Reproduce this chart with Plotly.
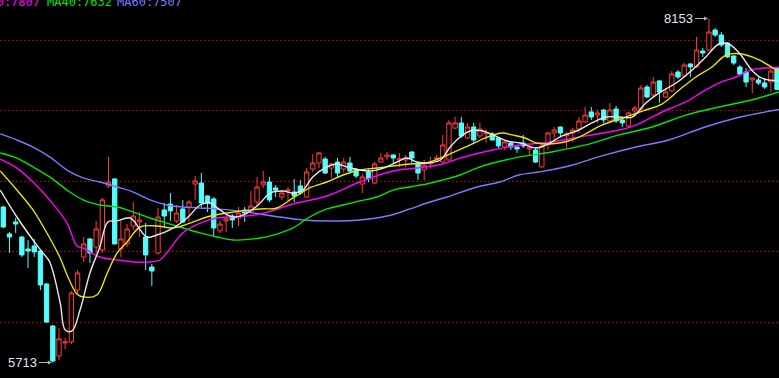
import plotly.graph_objects as go

# ---------------- data ----------------
opens = [6816, 6625, 6710, 6603, 6518, 6539, 6504, 6270, 5972, 5759,
         5852, 5859, 6227, 6461, 6589, 6532, 6511, 6965, 7015, 6518,
         6554, 6681, 6710, 6603, 6390, 6490, 6795, 6837, 6717, 6802,
         6816, 6979, 6986, 6894, 6873, 6646, 6717, 6752, 6738, 6795,
         6780, 6851, 6972, 6993, 6951, 6887, 6929, 6922, 6965, 6887,
         7085, 7128, 7156, 7092, 7135, 7085, 7128, 7085, 6979, 7064,
         6986, 7135, 7171, 7185, 7149, 7149, 7206, 7128, 7078, 7121,
         7156, 7135, 7149, 7376, 7412, 7305, 7383, 7320, 7334, 7334,
         7305, 7241, 7270, 7241, 7270, 7227, 7220, 7100, 7256, 7341,
         7383, 7320, 7341, 7369, 7419, 7490, 7468, 7504, 7426, 7511,
         7433, 7390, 7497, 7511, 7667, 7610, 7710, 7596, 7639, 7773,
         7745, 7830, 7809, 7922, 7929, 8071, 8036, 7979, 7887, 7809,
         7773, 7717, 7717, 7695, 7702, 7802]
highs = [6825, 6639, 6738, 6610, 6582, 6589, 6511, 6275, 5979, 5958,
         5887, 6220, 6369, 6603, 6596, 6717, 6880, 7171, 7020, 6724,
         6695, 6851, 6780, 6702, 6412, 6809, 6844, 6915, 6830, 6866,
         6866, 7036, 7057, 6900, 6887, 6717, 6759, 6766, 6816, 6816,
         6929, 7029, 7071, 7029, 6972, 6936, 6958, 7015, 7007, 7092,
         7192, 7206, 7171, 7128, 7163, 7163, 7171, 7092, 7050, 7085,
         7135, 7199, 7206, 7190, 7199, 7185, 7210, 7135, 7149, 7171,
         7185, 7327, 7433, 7454, 7454, 7412, 7412, 7412, 7369, 7348,
         7312, 7291, 7277, 7256, 7327, 7256, 7241, 7256, 7348, 7383,
         7386, 7348, 7376, 7454, 7525, 7525, 7504, 7511, 7553, 7532,
         7454, 7490, 7532, 7681, 7681, 7738, 7717, 7660, 7780, 7788,
         7837, 7837, 8022, 7944, 8153, 8085, 8057, 7986, 7890, 7823,
         7802, 7735, 7738, 7731, 7802, 7805]
lows = [6665, 6490, 6632, 6461, 6383, 6461, 6227, 5993, 5713, 5731,
        5809, 5844, 6192, 6426, 6419, 6490, 6490, 6951, 6550, 6461,
        6532, 6653, 6603, 6369, 6256, 6476, 6674, 6717, 6702, 6702,
        6710, 6866, 6816, 6780, 6603, 6632, 6639, 6667, 6681, 6710,
        6766, 6816, 6951, 6851, 6887, 6866, 6851, 6851, 6901, 6880,
        7064, 7092, 7050, 7022, 7029, 7057, 7064, 7022, 6915, 6993,
        6979, 7128, 7149, 7128, 7100, 7100, 7128, 7007, 7007, 7092,
        7135, 7130, 7145, 7369, 7305, 7300, 7270, 7305, 7270, 7287,
        7234, 7220, 7220, 7199, 7234, 7185, 7128, 7096, 7220, 7291,
        7320, 7234, 7277, 7341, 7412, 7433, 7412, 7412, 7419, 7412,
        7383, 7383, 7483, 7504, 7589, 7596, 7554, 7589, 7631, 7724,
        7738, 7738, 7802, 7880, 7922, 8022, 7951, 7873, 7823, 7752,
        7667, 7624, 7681, 7653, 7631, 7646]
closes = [6674, 6603, 6695, 6476, 6504, 6497, 6263, 6000, 5724, 5880,
          5859, 6206, 6348, 6554, 6490, 6660, 6866, 6993, 6554, 6589,
          6660, 6752, 6724, 6476, 6362, 6745, 6752, 6788, 6773, 6710,
          6851, 7000, 6844, 6844, 6667, 6695, 6731, 6724, 6773, 6773,
          6823, 6958, 6993, 6866, 6936, 6915, 6936, 6894, 6915, 7064,
          7128, 7199, 7057, 7121, 7057, 7135, 7071, 7036, 7029, 7015,
          7121, 7163, 7185, 7163, 7156, 7163, 7163, 7057, 7113, 7135,
          7163, 7256, 7412, 7412, 7320, 7383, 7291, 7369, 7341, 7291,
          7249, 7277, 7241, 7227, 7249, 7241, 7135, 7249, 7341, 7362,
          7341, 7334, 7362, 7426, 7468, 7454, 7483, 7433, 7504, 7426,
          7412, 7483, 7518, 7660, 7596, 7702, 7631, 7631, 7759, 7738,
          7823, 7809, 7929, 7908, 8057, 8036, 7965, 7880, 7837, 7759,
          7702, 7731, 7695, 7667, 7780, 7650]
days = list(range(len(closes)))

# moving averages sampled along the picture (position in bars, value)
ma5_x = [-0.5, 2.2, 4.8, 6.4, 7.5, 9.2, 10.0, 11.1, 12.4, 14.0, 15.6, 16.9, 18.4,
         20.5, 23.2, 24.8, 26.9, 29.7, 31.8, 33.4, 35.0, 37.1, 39.4, 41.5, 43.1,
         45.2, 46.8, 48.4, 50.0, 52.3, 53.9, 55.5, 57.6, 59.2, 61.4, 63.6, 65.2,
         66.8, 68.4, 70.6, 72.2, 73.8, 75.4, 77.5, 79.1, 81.4, 83.5, 86.1, 87.7,
         90.3, 93.0, 95.1, 97.4, 99.5, 101.6, 103.8, 105.9, 108.7, 111.3, 113.5,
         115.6, 117.2, 118.9, 120.9, 122.5, 125.3]
ma5_v = [6936, 6745, 6582, 6490, 6426, 6135, 5944, 5937, 6085, 6348, 6532, 6710, 6717,
         6738, 6603, 6617, 6653, 6738, 6830, 6844, 6795, 6745, 6773, 6844, 6915,
         6929, 6915, 6936, 7029, 7100, 7121, 7100, 7078, 7071, 7092, 7135, 7163,
         7135, 7128, 7149, 7241, 7312, 7355, 7355, 7327, 7284, 7270, 7234, 7256,
         7320, 7362, 7412, 7454, 7454, 7454, 7553, 7624, 7695, 7788, 7880,
         7972, 7972, 7908, 7788, 7731, 7710]

ma10_x = [-0.5, 2.2, 4.8, 7.5, 9.2, 10.3, 11.9, 12.9, 15.1, 16.8, 18.4, 20.0, 22.1,
          24.8, 27.4, 30.2, 32.9, 36.1, 41.5, 44.2, 46.8, 49.5, 52.3, 54.9, 57.6,
          60.4, 63.0, 65.7, 68.4, 70.6, 72.5, 75.1, 77.8, 80.6, 82.2, 84.3, 86.1,
          89.8, 93.0, 96.7, 100.6, 103.8, 106.4, 109.2, 111.9, 114.5, 116.8, 119.3,
          122.1, 125.3]
ma10_v = [7071, 6936, 6795, 6596, 6454, 6334, 6199, 6178, 6192, 6348, 6490, 6568, 6674,
          6681, 6667, 6702, 6745, 6773, 6802, 6809, 6880, 6951, 6993, 7043, 7078,
          7092, 7107, 7121, 7128, 7163, 7199, 7249, 7305, 7341, 7327, 7305, 7270,
          7270, 7312, 7397, 7454, 7504, 7546, 7646, 7738, 7809, 7894, 7901,
          7859, 7773]

ma20_x = [-0.5, 2.2, 4.8, 7.5, 10.3, 11.9, 12.9, 15.6, 18.4, 21.0, 23.7, 25.3, 26.4,
          29.0, 31.8, 34.5, 37.1, 41.5, 46.8, 52.3, 57.6, 63.0, 68.4, 71.0, 73.8,
          79.1, 83.5, 88.6, 94.1, 99.5, 102.2, 104.8, 107.5, 110.3, 112.9, 115.6,
          118.4, 120.9, 125.3]
ma20_v = [7156, 7092, 6993, 6866, 6702, 6539, 6525, 6461, 6440, 6426, 6426, 6440, 6490,
          6632, 6702, 6738, 6745, 6766, 6837, 6894, 6993, 7071, 7100, 7121, 7163,
          7220, 7256, 7277, 7320, 7362, 7397, 7454, 7511, 7561, 7631, 7695,
          7738, 7788, 7807]

ma40_x = [-0.5, 2.2, 4.8, 7.5, 10.3, 12.9, 15.6, 18.4, 21.0, 23.7, 26.4, 29.0, 31.8,
          34.5, 37.1, 41.5, 44.2, 46.8, 49.5, 52.3, 54.9, 57.6, 60.4, 63.0, 65.7,
          68.4, 71.0, 73.8, 76.5, 79.1, 83.5, 88.6, 94.1, 99.5, 104.8, 110.3,
          115.6, 120.9, 125.3]
ma40_v = [7199, 7163, 7100, 7029, 6936, 6866, 6830, 6816, 6780, 6738, 6702, 6667, 6632,
          6603, 6582, 6596, 6624, 6667, 6745, 6802, 6830, 6859, 6887, 6936, 6958,
          6979, 7007, 7043, 7092, 7128, 7171, 7206, 7256, 7327, 7383, 7468,
          7525, 7575, 7632]

ma60_x = [-0.5, 2.2, 4.8, 7.5, 10.3, 12.9, 15.6, 18.4, 21.0, 23.7, 26.4, 29.0, 31.8,
          34.5, 38.2, 41.5, 44.7, 48.4, 52.3, 57.6, 62.0, 65.7, 68.4, 71.7, 76.5,
          80.2, 83.3, 86.5, 91.4, 96.7, 102.2, 107.5, 112.9, 118.4, 125.3]
ma60_v = [7334, 7291, 7241, 7171, 7078, 7022, 6993, 6958, 6922, 6866, 6830, 6816, 6809,
          6802, 6788, 6766, 6745, 6724, 6717, 6724, 6752, 6802, 6844, 6887, 6958,
          6993, 7043, 7064, 7107, 7178, 7241, 7291, 7376, 7447, 7507]

grid_levels = [6000, 6500, 7000, 7500, 8000]
ma_names = ["MA20", "MA40", "MA60"]
ma_last = [ma20_v[-1], ma40_v[-1], ma60_v[-1]]

# ---------------- styles ----------------
UP = "#ff3b3b"
DOWN = "#54fcfc"
C_MA5 = "#e8e8e8"
C_MA10 = "#e6e600"
C_MA20 = "#ff00ff"
C_MA40 = "#00e600"
C_MA60 = "#7b7bff"

fig = go.Figure()

for xs, vs, col in [(ma60_x, ma60_v, C_MA60), (ma40_x, ma40_v, C_MA40),
                    (ma20_x, ma20_v, C_MA20), (ma10_x, ma10_v, C_MA10),
                    (ma5_x, ma5_v, C_MA5)]:
    fig.add_trace(go.Scatter(x=xs, y=vs, mode="lines", line=dict(color=col, width=1.4),
                             line_shape="spline", showlegend=False, hoverinfo="skip"))

fig.add_trace(go.Candlestick(
    x=days, open=opens, high=highs, low=lows, close=closes,
    increasing=dict(line=dict(color=UP, width=1), fillcolor="#000000"),
    decreasing=dict(line=dict(color=DOWN, width=1), fillcolor=DOWN),
    whiskerwidth=0, showlegend=False))

# highest / lowest labels
hi_i = max(days, key=lambda i: highs[i])
lo_i = min(days, key=lambda i: lows[i])
label_font = dict(family="Liberation Sans, Arial, sans-serif", size=13, color="#dfe6f5")
for i, val in [(hi_i, highs[hi_i]), (lo_i, lows[lo_i])]:
    fig.add_annotation(x=i, y=val, xref="x", yref="y", text=str(val),
                       showarrow=True, ax=-30, ay=0, arrowhead=2, arrowsize=0.8,
                       arrowwidth=1, arrowcolor="#b8b8b8", standoff=1,
                       font=label_font)

# top legend text (cut at the left edge)
leg_cols = [C_MA20, C_MA40, C_MA60]
leg_pos = [(42, "right"), (45, "left"), (115, "left")]
for name, val, col, (px, anc) in zip(ma_names, ma_last, leg_cols, leg_pos):
    fig.add_annotation(x=px / 779, y=1 - 2.0 / 378, xref="paper", yref="paper",
                       xanchor=anc, yanchor="middle", showarrow=False,
                       text=f"{name}:{val}",
                       font=dict(family="DejaVu Sans Mono", size=12, color=col))

fig.update_layout(
    width=779, height=378, margin=dict(l=0, r=0, t=0, b=0),
    paper_bgcolor="#000000", plot_bgcolor="#000000",
    boxgap=0.3, boxgroupgap=0, showlegend=False,
    xaxis=dict(range=[-0.53, 125.32], showgrid=False, zeroline=False,
               showticklabels=False, rangeslider=dict(visible=False), fixedrange=True),
    yaxis=dict(range=[5603, 8284], tickvals=grid_levels, showgrid=True,
               gridcolor="#a00000", griddash="2px,2px", gridwidth=1, zeroline=False,
               showticklabels=False, fixedrange=True),
)

fig.write_html("out.html")
